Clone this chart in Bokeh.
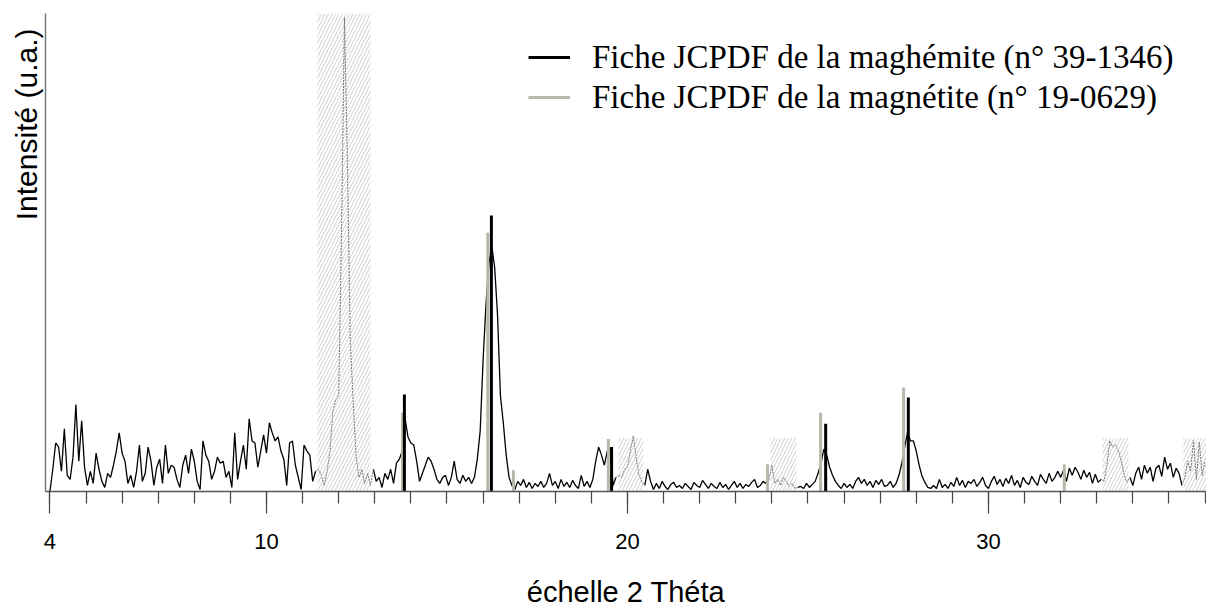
import numpy as np
from bokeh.plotting import figure
from bokeh.models import FixedTicker, Range1d, Legend, LegendItem, Title
from bokeh.embed import file_html
from bokeh.resources import INLINE

theta_debut = 4.00      # premier point (° 2θ)
theta_pas = 0.08        # pas d'échantillonnage (° 2θ)
intensite = [
    0, 22, 48, 44, 20, 62, 16, 12, 34, 86,      # 4.00
    30, 70, 24, 6, 20, 8, 38, 22, 10, 4,        # 4.80
    18, 14, 26, 40, 58, 38, 30, 8, 16, 4,       # 5.60
    20, 46, 10, 18, 44, 30, 6, 24, 32, 8,       # 6.40
    46, 18, 26, 24, 12, 4, 26, 36, 18, 42,      # 7.20
    30, 10, 2, 50, 36, 30, 12, 20, 34, 28,      # 8.00
    30, 14, 20, 4, 58, 12, 30, 46, 22, 72,      # 8.80
    50, 48, 24, 40, 56, 38, 68, 58, 50, 54,     # 9.60
    40, 32, 6, 48, 50, 26, 14, 2, 46, 40,       # 10.40
    36, 10, 20, 22, 16, 6, 20, 40, 80, 90,      # 11.20
    95, 260, 469, 330, 150, 90, 36, 14, 22, 8,  # 12.00
    18, 6, 22, 10, 14, 4, 18, 12, 22, 8,        # 12.80
    28, 32, 40, 72, 54, 48, 46, 30, 10, 18,     # 13.60
    26, 34, 30, 22, 12, 8, 14, 16, 6, 14,       # 14.40
    30, 12, 8, 16, 10, 14, 8, 14, 32, 60,       # 15.20
    130, 185, 225, 243, 222, 175, 95, 68, 36, 14,  # 16.00
    6, 2, 10, 6, 12, 4, 9, 3, 8, 5,             # 16.80
    10, 4, 8, 18, 6, 10, 3, 12, 5, 9,           # 17.60
    4, 11, 6, 3, 16, 5, 10, 4, 12, 30,          # 18.40
    44, 36, 26, 40, 42, 6, 14, 16, 14, 22,      # 19.20
    24, 40, 55, 34, 16, 10, 6, 22, 10, 2,       # 20.00
    8, 3, 10, 5, 2, 7, 9, 4, 6, 3,              # 20.80
    8, 5, 2, 9, 6, 4, 11, 7, 3, 8,              # 21.60
    5, 3, 9, 4, 7, 2, 6, 10, 4, 8,              # 22.40
    3, 7, 5, 9, 12, 4, 6, 10, 8, 12,            # 23.20
    26, 8, 12, 6, 14, 10, 5, 8, 3, 4,           # 24.00
    5, 3, 8, 4, 7, 10, 18, 28, 42, 36,          # 24.80
    24, 16, 10, 6, 3, 8, 4, 7, 3, 10,           # 25.60
    14, 8, 12, 6, 10, 4, 11, 7, 12, 5,          # 26.40
    6, 10, 4, 8, 16, 28, 44, 59, 50, 50,        # 27.20
    40, 26, 15, 9, 4, 3, 6, 3, 12, 4,           # 28.00
    7, 3, 9, 5, 14, 6, 11, 4, 10, 8,            # 28.80
    12, 5, 9, 14, 6, 3, 10, 15, 7, 12,          # 29.60
    5, 13, 8, 16, 6, 11, 4, 14, 9, 7,           # 30.40
    15, 10, 6, 17, 12, 8, 18, 10, 14, 20,       # 31.20
    14, 21, 10, 23, 16, 24, 19, 12, 21, 14,     # 32.00
    19, 8, 17, 9, 12, 10, 26, 50, 44, 46,       # 32.80
    40, 30, 16, 9, 14, 6, 18, 24, 12, 26,       # 33.60
    18, 24, 10, 23, 26, 15, 34, 22, 28, 14,     # 34.40
    23, 18, 6, 14, 30, 20, 51, 12, 49, 16,      # 35.20
    30,                                         # 36.00
]

# zones hachurées (pics exclus)
zones_debut = [11.41, 19.75, 23.96, 33.16, 35.40]
zones_fin = [12.88, 20.44, 24.68, 33.88, 36.20]
zones_haut = [473, 53, 53, 53, 53]

# fiches JCPDF
maghemite_2theta = [13.82, 16.23, 19.56, 25.49, 27.78]
maghemite_int = [96, 273, 44, 67, 93]
magnetite_2theta = [13.77, 16.13, 16.84, 19.47, 23.88, 25.35, 27.65, 32.10]
magnetite_int = [78, 256, 21, 52, 27, 78, 103, 27]

ticks_etiquetes = [4, 10, 20, 30]
ticks_mineurs = list(range(4, 37))

# ---------------- préparation ----------------
y = np.array(intensite, dtype=float)
x = theta_debut + theta_pas * np.arange(len(y))
dans_zone = np.zeros(len(x), dtype=bool)
for a, b in zip(zones_debut, zones_fin):
    dans_zone |= (x >= a) & (x <= b)
voisin = dans_zone.copy()
voisin[1:] |= dans_zone[:-1]
voisin[:-1] |= dans_zone[1:]
y_noir = np.where(dans_zone, np.nan, y)
y_gris = np.where(voisin, y, np.nan)

# ---------------- figure ----------------
p = figure(width=1206, height=610, output_backend="svg", toolbar_location=None,
           x_range=Range1d(3.878, 36.04), y_range=Range1d(0, 473),
           min_border_left=45, min_border_right=0, min_border_top=13, min_border_bottom=0)
p.outline_line_color = None
p.xgrid.visible = False
p.ygrid.visible = False
p.background_fill_color = "white"

# zones hachurées
p.quad(left=zones_debut, right=zones_fin, bottom=0, top=zones_haut,
       fill_color="white", fill_alpha=0, line_color=None,
       hatch_pattern="/", hatch_color="#cfcfcf", hatch_scale=7, hatch_weight=1)

# diffractogramme
p.line(x, y_noir, line_color="black", line_width=1.3)
p.line(x, y_gris, line_color="#7a7a7a", line_width=1, line_dash="2 1")

# raies JCPDF
r_mag = p.segment(x0=magnetite_2theta, y0=0, x1=magnetite_2theta, y1=magnetite_int,
                  line_color="#b9b6aa", line_width=3)
r_mgh = p.segment(x0=maghemite_2theta, y0=0, x1=maghemite_2theta, y1=maghemite_int,
                  line_color="black", line_width=3)

legend = Legend(items=[
    LegendItem(label="Fiche JCPDF de la maghémite (n° 39-1346)", renderers=[r_mgh]),
    LegendItem(label="Fiche JCPDF de la magnétite (n° 19-0629)", renderers=[r_mag]),
], location=(483, 375), orientation="vertical")
legend.label_text_font = "Liberation Serif"
legend.label_text_font_size = "33px"
legend.label_text_color = "black"
legend.glyph_width = 42
legend.glyph_height = 38
legend.label_height = 38
legend.label_standoff = 22
legend.spacing = 2
legend.padding = 0
legend.margin = 0
legend.border_line_color = None
legend.background_fill_alpha = 0
p.add_layout(legend)

# axe x
xa = p.xaxis[0]
xa.ticker = FixedTicker(ticks=ticks_etiquetes, minor_ticks=ticks_mineurs)
xa.major_tick_out = 22
xa.major_tick_in = 0
xa.minor_tick_out = 12
xa.minor_tick_in = 0
xa.axis_line_color = "#555555"
xa.axis_line_width = 1.5
xa.major_tick_line_color = "#444444"
xa.major_tick_line_width = 1.2
xa.minor_tick_line_color = "#444444"
xa.minor_tick_line_width = 1.2
xa.major_label_text_font = "Liberation Sans"
xa.major_label_text_font_size = "22px"
xa.major_label_text_color = "black"
xa.major_label_standoff = 20
xa.axis_label = "échelle 2 Théta"
xa.axis_label_text_font = "Liberation Sans"
xa.axis_label_text_font_size = "29px"
xa.axis_label_text_font_style = "normal"
xa.axis_label_text_color = "black"
xa.axis_label_standoff = 24

# axe y (ligne seule)
ya = p.yaxis[0]
ya.ticker = FixedTicker(ticks=[])
ya.major_tick_line_color = None
ya.minor_tick_line_color = None
ya.major_tick_out = 0
ya.minor_tick_out = 0
ya.major_label_standoff = 0
ya.axis_line_color = "#777777"
ya.axis_line_width = 1.5

titre_y = Title(text="Intensité (u.a.)", align="right", offset=15, standoff=6,
                text_font="Liberation Sans", text_font_size="30px",
                text_font_style="normal", text_color="black")
p.add_layout(titre_y, "left")

open("out.html", "w").write(file_html(p, INLINE))
